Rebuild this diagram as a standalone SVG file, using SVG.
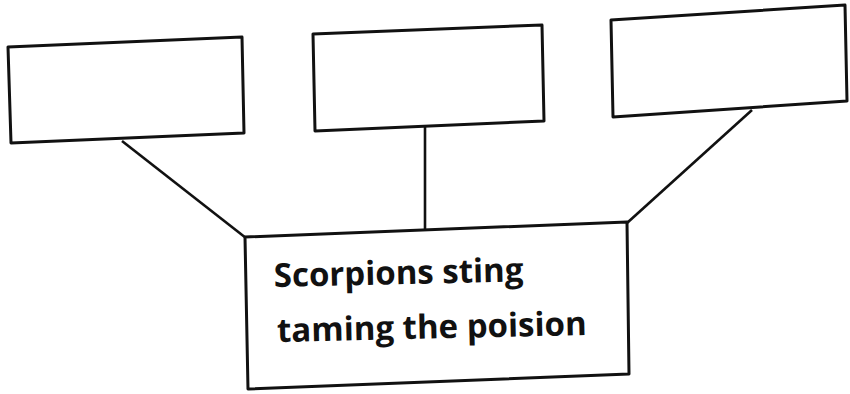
<svg xmlns="http://www.w3.org/2000/svg" width="850" height="394" viewBox="0 0 850 394">
<style>
.box{fill:#fff;stroke:#111;stroke-width:3;stroke-linejoin:round}
.conn{stroke:#111;stroke-width:2.6;fill:none}
.lbl{font-family:"Open Sans","Liberation Sans",sans-serif;font-weight:bold;font-size:33px;fill:#111}
</style>
<rect width="850" height="394" fill="#fff"/>
<g id="connectors">
<line class="conn" x1="122" y1="141" x2="246" y2="238"/>
<line class="conn" x1="425" y1="127" x2="425" y2="236"/>
<line class="conn" x1="752" y1="110" x2="627" y2="223"/>
</g>
<g id="box-left">
<polygon class="box" points="8,47 242,37 244,133 11,143"/>
</g>
<g id="box-middle">
<polygon class="box" points="313,34 542,25 544,121 315,131"/>
</g>
<g id="box-right">
<polygon class="box" points="611,20 845,5 847,101 613,117"/>
</g>
<g id="box-main">
<polygon class="box" points="245,237 627,222 629,374 248,389"/>
<g transform="rotate(-1.3 275 287)">
<text class="lbl" x="274" y="287">Scorpions sting</text>
<text class="lbl" x="276" y="342">taming the poision</text>
</g>
</g>
</svg>
